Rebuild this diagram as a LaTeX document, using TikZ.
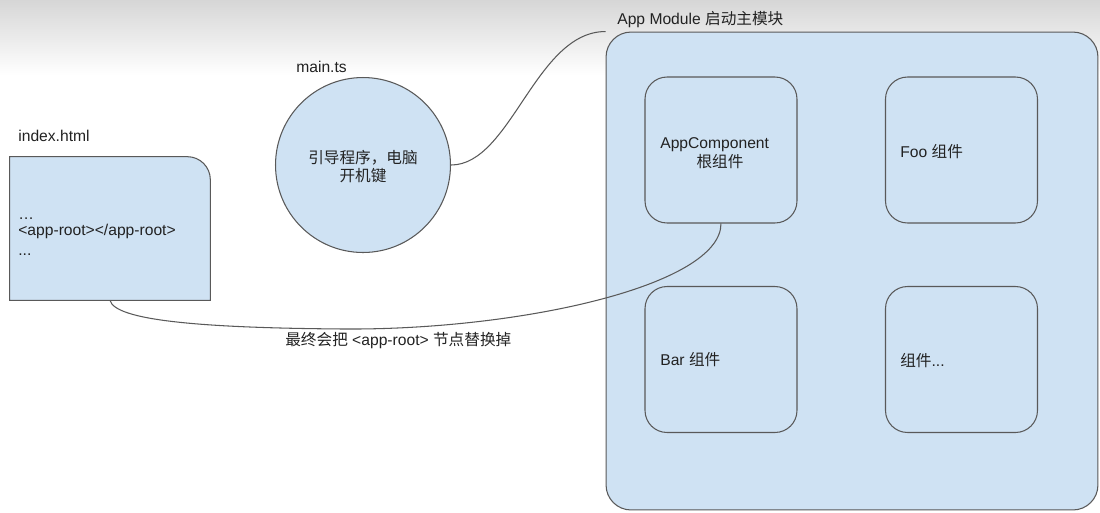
\documentclass[tikz,border=0pt]{standalone}
\usepackage{fontspec}
\setmainfont{Liberation Sans}
\newfontfamily\cjk{Noto Sans CJK SC}
\newcommand\zhs[1]{{\cjk #1}}
\definecolor{boxfill}{HTML}{CFE2F3}
\definecolor{boxline}{HTML}{595959}
\definecolor{txt}{HTML}{222222}
\begin{document}
\begin{tikzpicture}[x=0.02cm, y=-0.02cm,
  font=\fontsize{8.9}{10.2}\selectfont, text=txt,
  shapebox/.style={draw=boxline, fill=boxfill, line width=0.6pt},
  comp/.style={shapebox, rounded corners=0.44cm, minimum width=3.04cm, minimum height=2.92cm, inner sep=0pt},
  lbl/.style={anchor=base west, inner sep=0pt},
  clbl/.style={anchor=base, inner sep=0pt},
  conn/.style={draw=boxline, line width=0.6pt}]
\useasboundingbox (0,0) rectangle (1100,512);
\shade[top color=black!16, bottom color=white] (0,0) rectangle (1100,75);
% module
\node[shapebox, rounded corners=0.5cm, minimum width=9.84cm, minimum height=9.56cm, inner sep=0pt] (mod) at (852,271) {};
\node[comp] (appc) at (721,150) {};
\node[comp] (foo) at (961.5,150) {};
\node[comp] (bar) at (721,359.5) {};
\node[comp] (more) at (961.5,359.5) {};
% main.ts
\node[shapebox, circle, minimum size=3.5cm, inner sep=0pt] (main) at (363,165) {};
% index.html
\node[minimum width=4cm, minimum height=2.86cm, inner sep=0pt] (idx) at (110,228.5) {};
\draw[shapebox] (idx.south west) -- (idx.north west) -- ([xshift=-0.46cm]idx.north east)
  arc[start angle=90, end angle=0, radius=0.46cm] -- (idx.south east) -- cycle;
% labels
\node[lbl] (modlbl) at (617,24) {App Module \zhs{启动主模块}};
\node[lbl] (mainlbl) at (296,72) {main.ts};
\node[lbl] (idxlbl) at (18,141) {index.html};
\node[clbl] (maint1) at (363,163) {\zhs{引导程序，电脑}};
\node[clbl] (maint2) at (363,181) {\zhs{开机键}};
\node[lbl] (idxt1) at (18,219) {…};
\node[lbl] (idxt2) at (18,235) {<app-root></app-root>};
\node[lbl] (idxt3) at (18,255) {...};
\node[lbl] (appct1) at (660,148) {AppComponent};
\node[clbl] (appct2) at (720,167) {\zhs{根组件}};
\node[lbl] (footxt) at (900,157) {Foo \zhs{组件}};
\node[lbl] (bartxt) at (660,365) {Bar \zhs{组件}};
\node[lbl] (moretxt) at (900,366) {\zhs{组件}...};
\node[lbl] (note) at (285,345) {\zhs{最终会把} <app-root> \zhs{节点替换掉}};
% connectors
\draw[conn] (main.east) .. controls +(60,0) and +(-70,0) .. (mod.north west);
\coordinate (low) at (345,329);
\draw[conn] (idx.south) .. controls +(5,20) and +(-145,-1) .. (low)
  .. controls +(175,1) and +(0,62) .. (appc.south);
\end{tikzpicture}
\end{document}
